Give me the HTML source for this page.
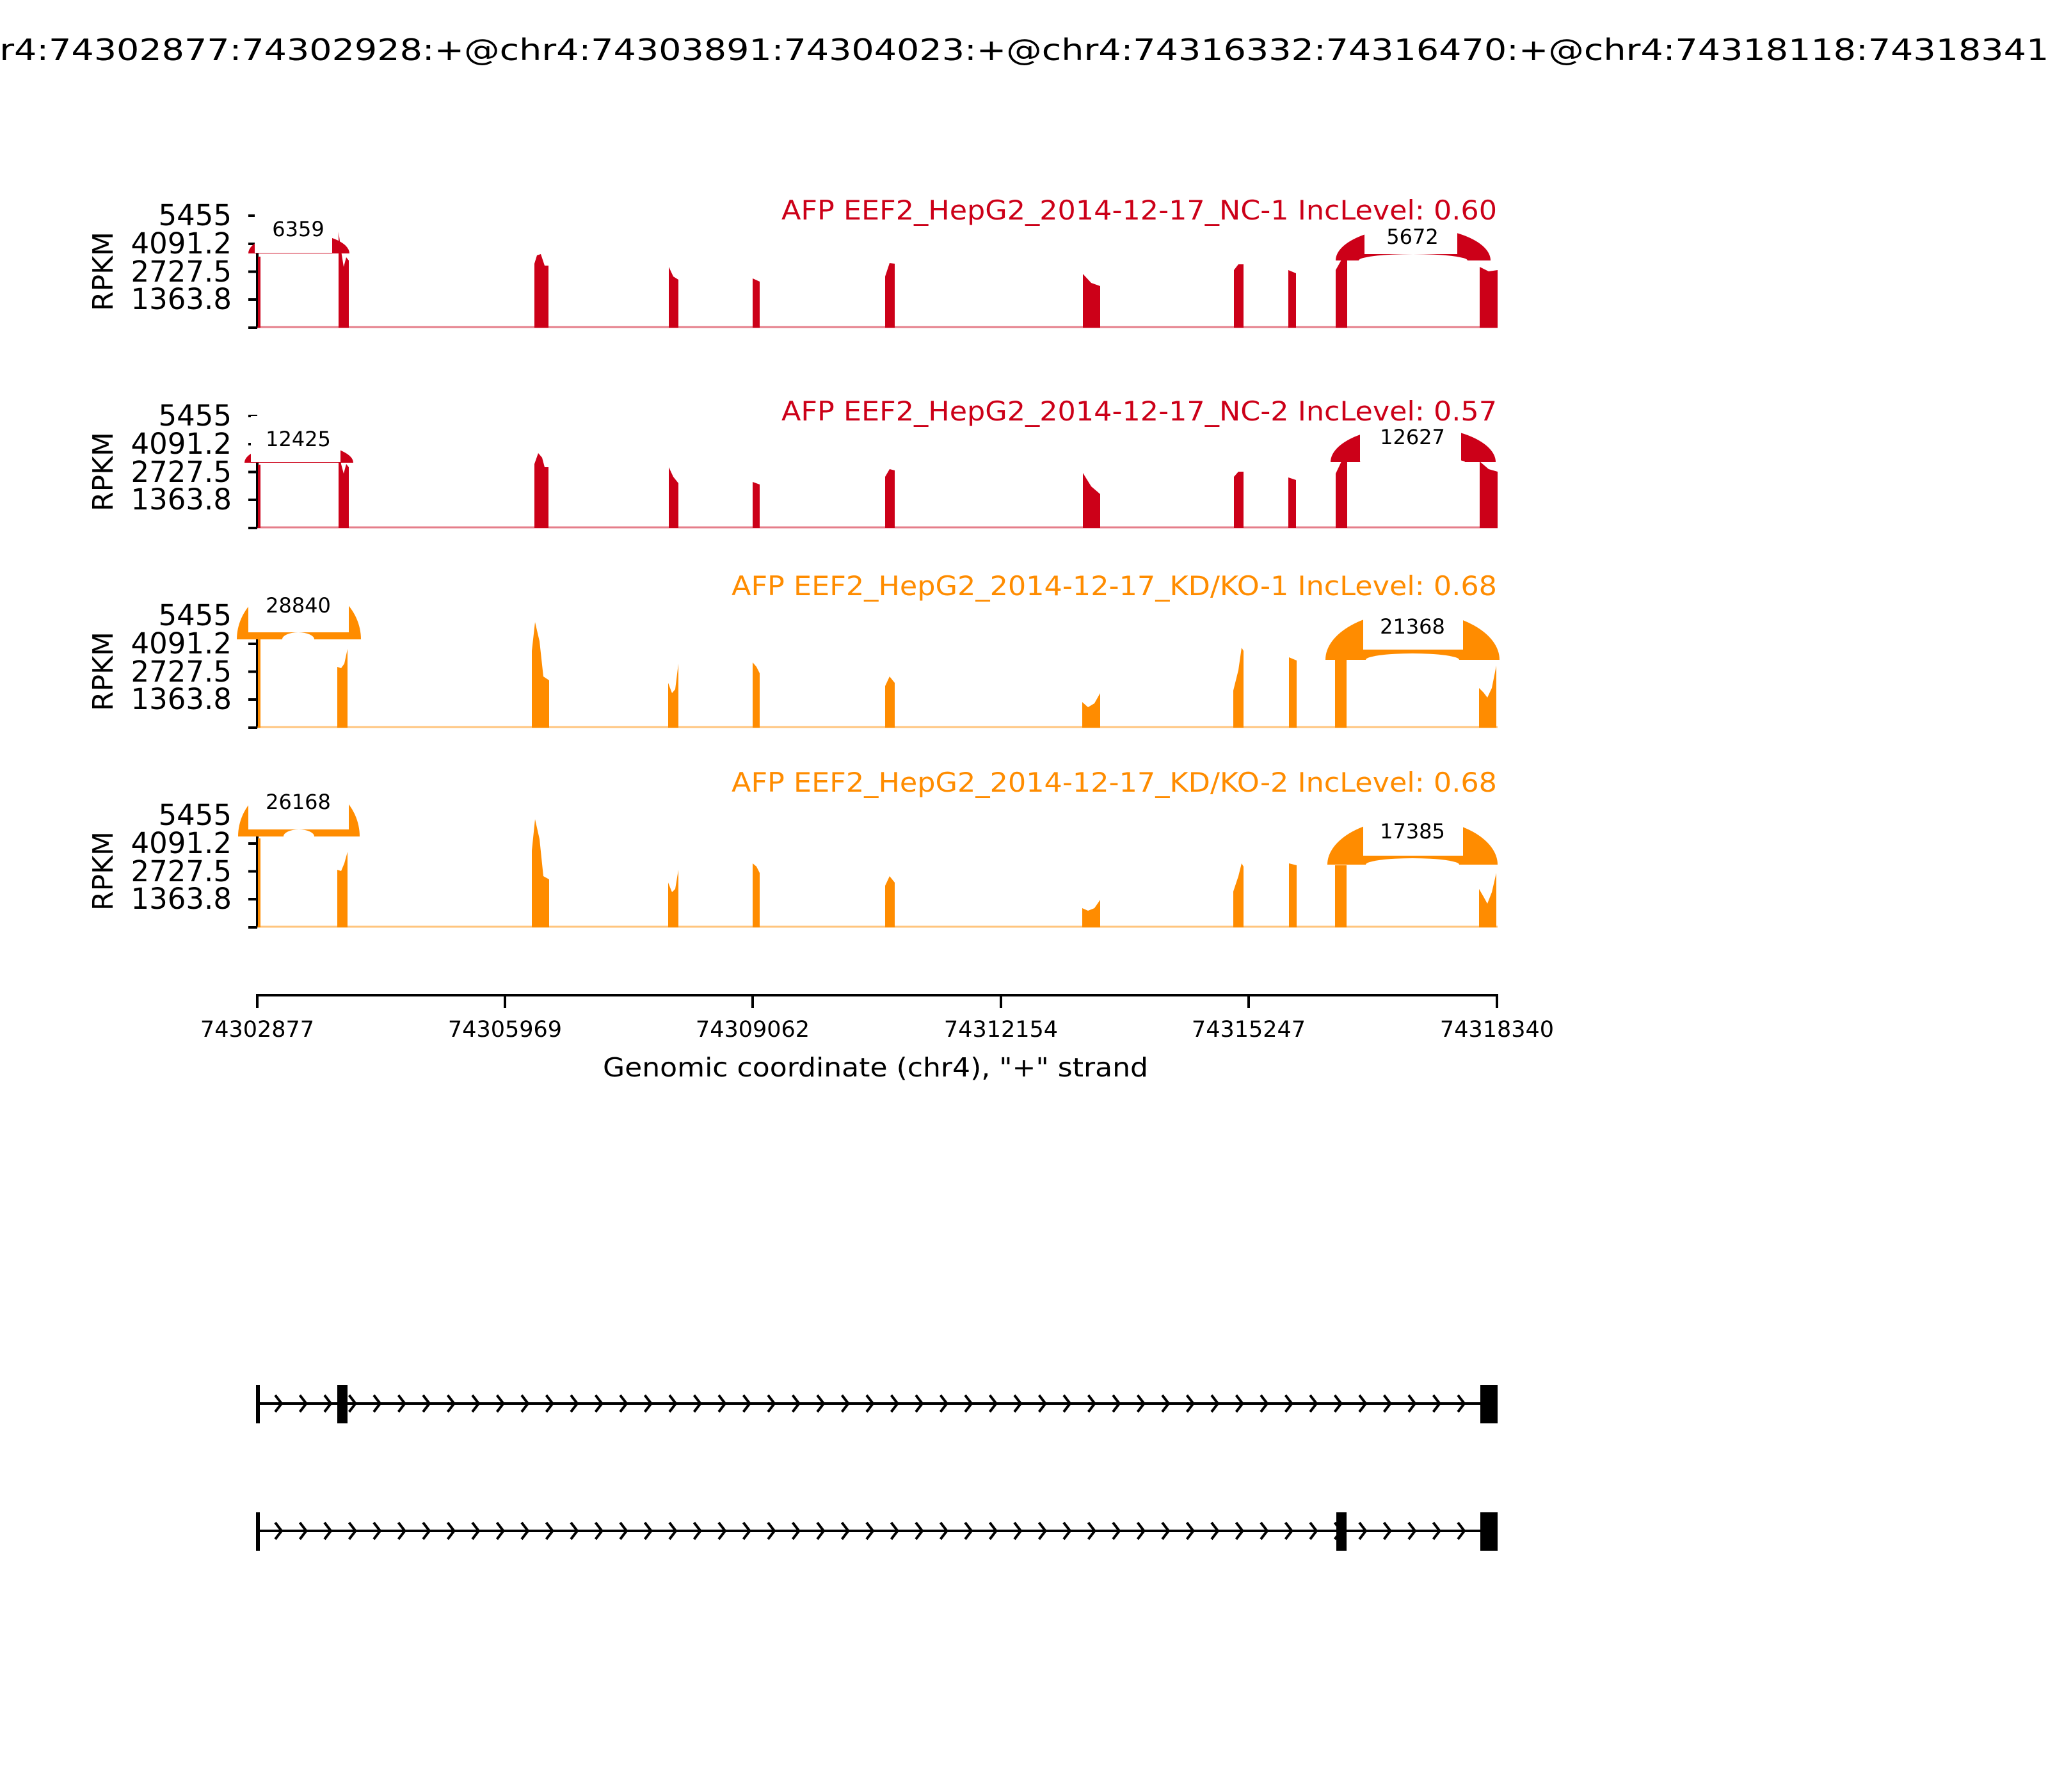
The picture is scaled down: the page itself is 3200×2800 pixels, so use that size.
<!DOCTYPE html>
<html><head><meta charset="utf-8"><style>html,body{margin:0;padding:0;background:#fff}svg{display:block}</style></head>
<body>
<svg xmlns="http://www.w3.org/2000/svg" width="3200" height="2800" viewBox="0 0 3200 2800" font-family="DejaVu Sans, Liberation Sans, sans-serif">
<rect width="3200" height="2800" fill="#fff"/>
<defs>
<pattern id="chev" patternUnits="userSpaceOnUse" x="421" y="0" width="38.5" height="2800">
<path d="M9 -13 L19 0 L9 13" transform="translate(0,2193)" fill="none" stroke="#000" stroke-width="4"/>
</pattern>
<pattern id="chev2" patternUnits="userSpaceOnUse" x="421" y="0" width="38.5" height="2800">
<path d="M9 -13 L19 0 L9 13" transform="translate(0,2392)" fill="none" stroke="#000" stroke-width="4"/>
</pattern>
</defs>
<text x="1600" y="94" font-size="46" text-anchor="middle" textLength="3333" lengthAdjust="spacingAndGlyphs">chr4:74302877:74302928:+@chr4:74303891:74304023:+@chr4:74316332:74316470:+@chr4:74318118:74318341:+</text>

<!-- Panel 1 -->
<g transform="translate(0,512)">
<g font-size="45" text-anchor="end"><text x="362" y="-160">5455</text><text x="362" y="-116">4091.2</text><text x="362" y="-72">2727.5</text><text x="362" y="-29">1363.8</text></g>
<text transform="translate(176,-88) rotate(-90)" font-size="44" text-anchor="middle">RPKM</text>
<path d="M402 -175 V0 M388 -175 H402 M388 -131 H402 M388 -87.5 H402 M388 -44 H402 M388 0 H402" stroke="#000" stroke-width="4" fill="none"/>
<line x1="402" y1="-1" x2="2340" y2="-1" stroke="#CC0018" stroke-width="3" opacity="0.5"/>
<path d="M388 -116 A79 32 0 0 1 546 -116 Z" fill="#CC0018"/>
<path d="M2087 -105 A121 52 0 0 1 2329 -105 Z" fill="#CC0018"/>
<path d="M2123 -105 A85 10 0 0 1 2293 -105 Z" fill="#fff"/>
<g fill="#CC0018">
<path d="M403 0 V-111 H407 V0Z"/>
<path d="M529 0 V-150 L533 -120 L537 -95 L541 -110 L545 -105 V0Z"/>
<path d="M835 0 V-100 L839 -113 L845 -115 L851 -97 L857 -97 V0Z"/>
<path d="M1045 0 V-95 L1052 -80 L1060 -75 V0Z"/>
<path d="M1176 0 V-77 L1187 -72 V0Z"/>
<path d="M1383 0 V-80 L1390 -101 L1398 -100 V0Z"/>
<path d="M1692 0 V-84 L1705 -70 L1719 -65 V0Z"/>
<path d="M1928 0 V-90 L1935 -99 L1943 -99 V0Z"/>
<path d="M2013 0 V-90 L2025 -85 V0Z"/>
<path d="M2087 0 V-90 L2096 -106 L2105 -106 V0Z"/>
<path d="M2312 0 V-95 L2326 -88 L2340 -90 V0Z"/>
</g>
<rect x="398" y="-180" width="121" height="63" fill="#fff"/>
<text x="466" y="-143" font-size="32" text-anchor="middle">6359</text>
<rect x="2132" y="-175" width="145" height="60" fill="#fff"/>
<text x="2207" y="-131" font-size="32" text-anchor="middle">5672</text>
<text x="2339" y="-169" font-size="42" fill="#CC0018" text-anchor="end" textLength="1118" lengthAdjust="spacingAndGlyphs">AFP EEF2_HepG2_2014-12-17_NC-1 IncLevel: 0.60</text>
</g>

<!-- Panel 2 -->
<g transform="translate(0,825)">
<g font-size="45" text-anchor="end"><text x="362" y="-160">5455</text><text x="362" y="-116">4091.2</text><text x="362" y="-72">2727.5</text><text x="362" y="-29">1363.8</text></g>
<text transform="translate(176,-88) rotate(-90)" font-size="44" text-anchor="middle">RPKM</text>
<path d="M402 -175 V0 M388 -175 H402 M388 -131 H402 M388 -87.5 H402 M388 -44 H402 M388 0 H402" stroke="#000" stroke-width="4" fill="none"/>
<line x1="402" y1="-1" x2="2340" y2="-1" stroke="#CC0018" stroke-width="3" opacity="0.5"/>
<path d="M382 -102 A85 30 0 0 1 552 -102 Z" fill="#CC0018"/>
<path d="M2079 -103 A129 56 0 0 1 2337 -103 Z" fill="#CC0018"/>
<path d="M2125 -103 A82 7 0 0 1 2289 -103 Z" fill="#fff"/>
<g fill="#CC0018">
<path d="M403 0 V-99 H407 V0Z"/>
<path d="M529 0 V-129 L533 -100 L537 -85 L541 -100 L545 -95 V0Z"/>
<path d="M835 0 V-100 L841 -117 L847 -110 L851 -95 L857 -95 V0Z"/>
<path d="M1045 0 V-95 L1052 -80 L1060 -70 V0Z"/>
<path d="M1176 0 V-72 L1187 -68 V0Z"/>
<path d="M1383 0 V-80 L1390 -92 L1398 -90 V0Z"/>
<path d="M1692 0 V-86 L1705 -65 L1719 -53 V0Z"/>
<path d="M1928 0 V-80 L1935 -88 L1943 -88 V0Z"/>
<path d="M2013 0 V-79 L2025 -75 V0Z"/>
<path d="M2087 0 V-85 L2096 -104 L2105 -104 V0Z"/>
<path d="M2312 0 V-104 L2326 -92 L2340 -88 V0Z"/>
</g>
<rect x="392" y="-175" width="140" height="72" fill="#fff"/>
<text x="466" y="-128" font-size="32" text-anchor="middle">12425</text>
<rect x="2125" y="-180" width="158" height="76" fill="#fff"/>
<text x="2207" y="-131" font-size="32" text-anchor="middle">12627</text>
<text x="2339" y="-168" font-size="42" fill="#CC0018" text-anchor="end" textLength="1118" lengthAdjust="spacingAndGlyphs">AFP EEF2_HepG2_2014-12-17_NC-2 IncLevel: 0.57</text>
</g>

<!-- Panel 3 -->
<g transform="translate(0,1137)">
<g font-size="45" text-anchor="end"><text x="362" y="-160">5455</text><text x="362" y="-116">4091.2</text><text x="362" y="-72">2727.5</text><text x="362" y="-29">1363.8</text></g>
<text transform="translate(176,-88) rotate(-90)" font-size="44" text-anchor="middle">RPKM</text>
<path d="M402 -175 V0 M388 -175 H402 M388 -131 H402 M388 -87.5 H402 M388 -44 H402 M388 0 H402" stroke="#000" stroke-width="4" fill="none"/>
<line x1="402" y1="-1" x2="2340" y2="-1" stroke="#FF8C00" stroke-width="3" opacity="0.5"/>
<path d="M370 -138 A97 88 0 0 1 564 -138 Z" fill="#FF8C00"/>
<path d="M441 -138 A25 11 0 0 1 491 -138 Z" fill="#fff"/>
<path d="M2071 -106 A136 76 0 0 1 2343 -106 Z" fill="#FF8C00"/>
<path d="M2134 -106 A73 10 0 0 1 2280 -106 Z" fill="#fff"/>
<g fill="#FF8C00">
<path d="M403 0 V-139 H407 V0Z"/>
<path d="M527 0 V-95 L533 -93 L538 -100 L543 -123 V0Z"/>
<path d="M831 0 V-120 L836 -165 L843 -135 L849 -80 L858 -74 V0Z"/>
<path d="M1044 0 V-70 L1050 -54 L1055 -60 L1060 -100 V0Z"/>
<path d="M1176 0 V-102 L1182 -95 L1187 -85 V0Z"/>
<path d="M1383 0 V-65 L1390 -80 L1398 -70 V0Z"/>
<path d="M1691 0 V-40 L1700 -32 L1710 -38 L1719 -54 V0Z"/>
<path d="M1927 0 V-58 L1935 -90 L1940 -125 L1943 -120 V0Z"/>
<path d="M2014 0 V-110 L2026 -105 V0Z"/>
<path d="M2086 0 V-106 L2104 -106 V0Z"/>
<path d="M2311 0 V-62 L2318 -55 L2324 -47 L2331 -62 L2338 -97 V0Z"/>
</g>
<rect x="388" y="-245" width="157" height="96" fill="#fff"/>
<text x="466" y="-180" font-size="32" text-anchor="middle">28840</text>
<rect x="2130" y="-195" width="156" height="73" fill="#fff"/>
<text x="2207" y="-147" font-size="32" text-anchor="middle">21368</text>
<text x="2339" y="-207" font-size="42" fill="#FF8C00" text-anchor="end" textLength="1196" lengthAdjust="spacingAndGlyphs">AFP EEF2_HepG2_2014-12-17_KD/KO-1 IncLevel: 0.68</text>
</g>

<!-- Panel 4 -->
<g transform="translate(0,1449)">
<g font-size="45" text-anchor="end"><text x="362" y="-160">5455</text><text x="362" y="-116">4091.2</text><text x="362" y="-72">2727.5</text><text x="362" y="-29">1363.8</text></g>
<text transform="translate(176,-88) rotate(-90)" font-size="44" text-anchor="middle">RPKM</text>
<path d="M402 -175 V0 M388 -175 H402 M388 -131 H402 M388 -87.5 H402 M388 -44 H402 M388 0 H402" stroke="#000" stroke-width="4" fill="none"/>
<line x1="402" y1="-1" x2="2340" y2="-1" stroke="#FF8C00" stroke-width="3" opacity="0.5"/>
<path d="M372 -142 A95 88 0 0 1 562 -142 Z" fill="#FF8C00"/>
<path d="M443 -142 A24 11 0 0 1 491 -142 Z" fill="#fff"/>
<path d="M2074 -98 A133 73 0 0 1 2340 -98 Z" fill="#FF8C00"/>
<path d="M2134 -98 A73 10 0 0 1 2280 -98 Z" fill="#fff"/>
<g fill="#FF8C00">
<path d="M403 0 V-139 H407 V0Z"/>
<path d="M527 0 V-90 L533 -88 L538 -100 L543 -118 V0Z"/>
<path d="M831 0 V-120 L836 -169 L843 -138 L849 -80 L858 -75 V0Z"/>
<path d="M1044 0 V-70 L1050 -55 L1055 -60 L1060 -90 V0Z"/>
<path d="M1176 0 V-100 L1182 -95 L1187 -85 V0Z"/>
<path d="M1383 0 V-65 L1390 -80 L1398 -70 V0Z"/>
<path d="M1691 0 V-30 L1700 -26 L1710 -30 L1719 -43 V0Z"/>
<path d="M1927 0 V-56 L1935 -80 L1940 -100 L1943 -95 V0Z"/>
<path d="M2014 0 V-100 L2026 -97 V0Z"/>
<path d="M2086 0 V-97 L2104 -97 V0Z"/>
<path d="M2311 0 V-60 L2318 -48 L2324 -37 L2331 -55 L2338 -85 V0Z"/>
</g>
<rect x="388" y="-250" width="157" height="97" fill="#fff"/>
<text x="466" y="-185" font-size="32" text-anchor="middle">26168</text>
<rect x="2130" y="-185" width="156" height="73" fill="#fff"/>
<text x="2207" y="-139" font-size="32" text-anchor="middle">17385</text>
<text x="2339" y="-212" font-size="42" fill="#FF8C00" text-anchor="end" textLength="1196" lengthAdjust="spacingAndGlyphs">AFP EEF2_HepG2_2014-12-17_KD/KO-2 IncLevel: 0.68</text>
</g>

<!-- x axis -->
<path d="M400 1555 H2341 M402 1555 V1575 M789 1555 V1575 M1176 1555 V1575 M1564 1555 V1575 M1951 1555 V1575 M2339 1555 V1575" stroke="#000" stroke-width="4" fill="none"/>
<g font-size="35" text-anchor="middle">
<text x="402" y="1620">74302877</text><text x="789" y="1620">74305969</text><text x="1176" y="1620">74309062</text><text x="1564" y="1620">74312154</text><text x="1951" y="1620">74315247</text><text x="2339" y="1620">74318340</text>
</g>
<text x="1368" y="1682" font-size="41" text-anchor="middle" textLength="852" lengthAdjust="spacingAndGlyphs">Genomic coordinate (chr4), "+" strand</text>

<!-- gene models -->
<line x1="403" y1="2193" x2="2339" y2="2193" stroke="#000" stroke-width="4"/>
<rect x="421" y="2170" width="1890" height="46" fill="url(#chev)"/>
<rect x="400" y="2164" width="6" height="60" fill="#000"/>
<rect x="527" y="2164" width="16" height="60" fill="#000"/>
<rect x="2313" y="2164" width="27" height="60" fill="#000"/>

<line x1="403" y1="2392" x2="2339" y2="2392" stroke="#000" stroke-width="4"/>
<rect x="421" y="2369" width="1890" height="46" fill="url(#chev2)"/>
<rect x="400" y="2363" width="6" height="60" fill="#000"/>
<rect x="2088" y="2363" width="16" height="60" fill="#000"/>
<rect x="2313" y="2363" width="27" height="60" fill="#000"/>
</svg>
</body></html>
